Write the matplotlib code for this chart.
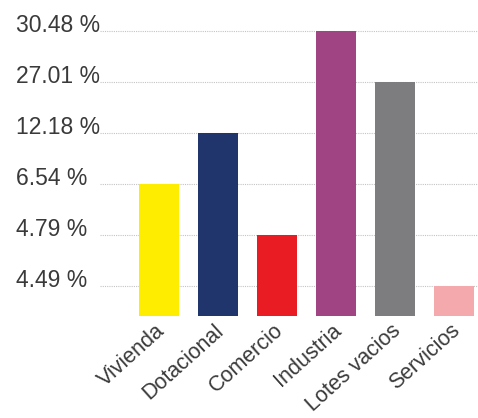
import numpy as np
import matplotlib.pyplot as plt
import matplotlib.transforms as mtransforms

plt.rcParams['font.family'] = ['Liberation Sans', 'DejaVu Sans']

# datos
categorias = ['Vivienda', 'Dotacional', 'Comercio', 'Industria', 'Lotes vacios', 'Servicios']
porcentajes = [6.54, 12.18, 4.79, 30.48, 27.01, 4.49]
colores = ['#FFED00', '#1F356B', '#E91C24', '#A04484', '#7D7D80', '#F4AAAC']

# el eje vertical es ordinal: cada barra sube hasta el nivel de su valor
orden = np.argsort(porcentajes)
niveles = np.empty(len(porcentajes))
niveles[orden] = np.arange(1, len(porcentajes) + 1)
etiquetas_y = ['%.2f %%' % porcentajes[i] for i in orden]

fig = plt.figure(figsize=(4.78, 4.18), dpi=100)
ax = fig.add_axes([0.209, 0.244, 0.79, 0.718])

x = np.arange(len(categorias))
ax.bar(x, niveles, width=0.68, color=colores, zorder=2)

ax.set_ylim(0.42, 6.3)
ax.set_xlim(-1.0, 5.4)
ax.set_yticks(np.arange(1, len(porcentajes) + 1))
ax.set_yticklabels(etiquetas_y)
ax.set_xticks(x)
ax.set_xticklabels(categorias, rotation=42, ha='right', va='top')

ax.yaxis.grid(True, color='#c4c4c4', linestyle=(0, (1, 1)), linewidth=0.8, zorder=0)
ax.set_axisbelow(True)
for s in ax.spines.values():
    s.set_visible(False)

ax.tick_params(axis='y', length=0, pad=84 * 72 / 100, labelsize=16.5, labelcolor='#3a3a3a')
ax.tick_params(axis='x', length=0, pad=3, labelsize=15.5, labelcolor='#3a3a3a')

# etiquetas del eje y alineadas a la izquierda y un poco por encima de la linea
off_y = mtransforms.ScaledTranslation(0, 8 / 100, fig.dpi_scale_trans)
for lab in ax.get_yticklabels():
    lab.set_horizontalalignment('left')
    lab.set_transform(lab.get_transform() + off_y)

off_x = mtransforms.ScaledTranslation(10 / 100, 0, fig.dpi_scale_trans)
for lab in ax.get_xticklabels():
    lab.set_transform(lab.get_transform() + off_x)

plt.savefig('out.png', dpi=100)
